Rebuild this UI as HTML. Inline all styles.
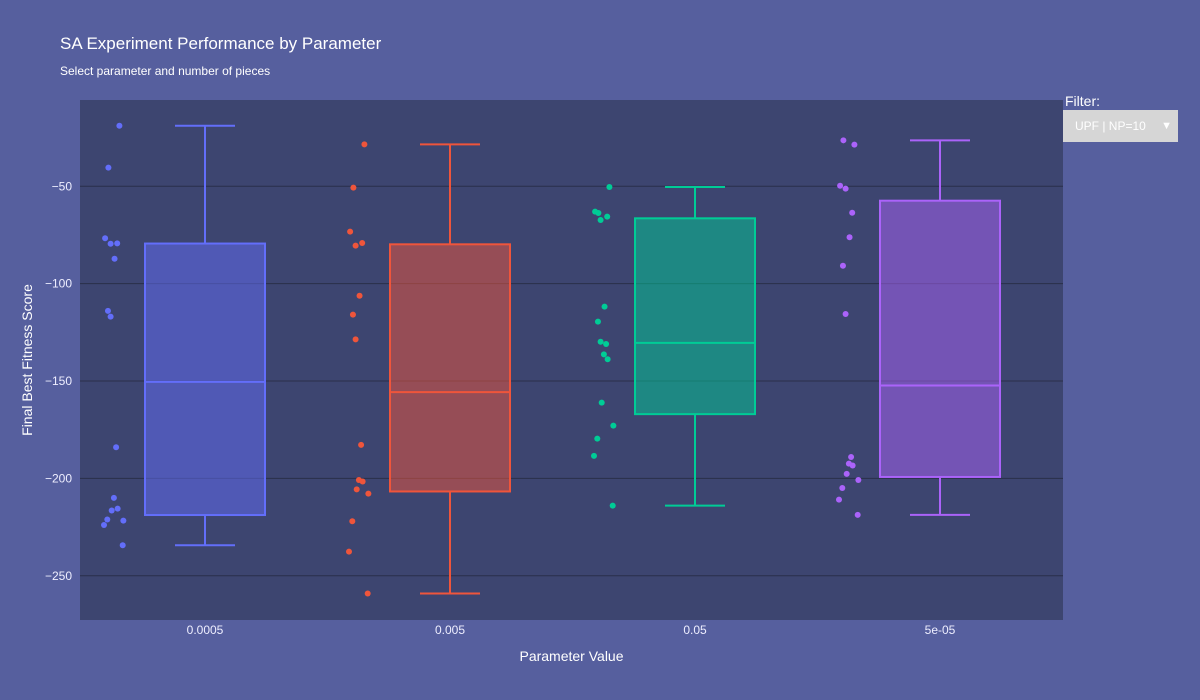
<!DOCTYPE html>
<html><head><meta charset="utf-8"><style>
body{margin:0;background:#565f9e;font-family:"Liberation Sans",sans-serif;}
#wrap{position:relative;width:1200px;height:700px;background:#565f9e;overflow:hidden}
.t{position:absolute;color:#fff;white-space:nowrap}
#dd{position:absolute;left:1063px;top:110px;width:115px;height:32px;background:#d6d6d6;color:#fff;font-size:12px;box-sizing:border-box;padding:9px 0 0 12px}
</style></head><body>
<div id="wrap">
<div class="t" style="left:60px;top:34px;font-size:17px">SA Experiment Performance by Parameter</div>
<div class="t" style="left:60px;top:64px;font-size:12px">Select parameter and number of pieces</div>
<div class="t" style="left:1065px;top:93px;font-size:14px">Filter:</div>
<div id="dd">UPF | NP=10<span style="position:absolute;right:6px;top:10px;font-size:11px">▼</span></div>
<svg id="svg" width="1200" height="700" style="position:absolute;left:0;top:0;pointer-events:none"></svg>
</div>
<script>
const categories=["0.0005","0.005","0.05","5e-05"];
const colors=["#636efa","#EF553B","#00cc96","#ab63fa"];
const series0=[-18.9,-40.4,-76.7,-79.5,-79.3,-87.2,-114.0,-116.9,-184.0,-210.0,-215.5,-216.5,-221.7,-221.1,-223.9,-234.3];
const series1=[-28.5,-50.7,-73.3,-80.5,-79.1,-106.2,-115.9,-128.6,-182.8,-200.8,-201.6,-205.6,-207.8,-222.0,-237.6,-259.1];
const series2=[-50.4,-63.7,-63.0,-67.3,-65.6,-111.8,-119.5,-129.8,-131.0,-136.3,-138.8,-161.1,-172.9,-179.6,-188.4,-214.0];
const series3=[-28.6,-26.4,-49.7,-51.2,-63.6,-76.2,-90.8,-115.6,-189.0,-192.4,-193.4,-197.7,-200.8,-204.9,-210.9,-218.7];
const jitter=[0.7,0.2,0.05,0.3,0.6,0.48,0.18,0.3,0.55,0.45,0.62,0.35,0.88,0.15,0.0,0.85];
const yTicks=[-50,-100,-150,-200,-250];
const allSeries=[series0,series1,series2,series3];
const L=80,R=1063,T=100,B=620,yMin=-272.7,yMax=-5.7;
const y=v=>T+(yMax-v)/(yMax-yMin)*(B-T);
const X0=205,STEP=245;
const xc=i=>X0+STEP*i;
const NS="http://www.w3.org/2000/svg";
const svg=document.getElementById('svg');
function mk(tag,attrs,parent){const e=document.createElementNS(NS,tag);for(const k in attrs)e.setAttribute(k,attrs[k]);(parent||svg).appendChild(e);return e;}
const bg=mk('rect',{x:L,y:T,width:R-L,height:B-T,fill:'#3d4570'});


yTicks.forEach(v=>{
 const g=mk('line',{x1:L,x2:R,y1:y(v),y2:y(v),stroke:'#2a2f4a','stroke-width':1});
 
 
 const t=mk('text',{x:72,y:y(v)+4,'text-anchor':'end','font-size':12,fill:'#eef','font-family':'Liberation Sans, sans-serif'});
 t.textContent='\u2212'+Math.abs(v);
 
 
});
function median(a){const n=a.length;return n%2?a[(n-1)/2]:(a[n/2-1]+a[n/2])/2;}
function quart(s){const a=[...s].sort((a,b)=>a-b);const n=a.length;const h=Math.floor(n/2);
 const lowH=a.slice(0,h),upH=a.slice(n-h);return [median(lowH),median(a),median(upH)];}
allSeries.forEach((s,i)=>{
 const c=colors[i],cx=xc(i),bw=120,cw=60;
 const [q1,med,q3]=quart(s),iqr=q3-q1;
 const inR=s.filter(v=>v>=q1-1.5*iqr&&v<=q3+1.5*iqr);
 const lo=Math.min(...inR),hi=Math.max(...inR);
 const g=mk('g',{});
 
 
 mk('line',{x1:cx,x2:cx,y1:y(hi),y2:y(q3),stroke:c,'stroke-width':2},g);
 mk('line',{x1:cx,x2:cx,y1:y(q1),y2:y(lo),stroke:c,'stroke-width':2},g);
 mk('line',{x1:cx-cw/2,x2:cx+cw/2,y1:y(hi),y2:y(hi),stroke:c,'stroke-width':2},g);
 mk('line',{x1:cx-cw/2,x2:cx+cw/2,y1:y(lo),y2:y(lo),stroke:c,'stroke-width':2},g);
 mk('rect',{x:cx-bw/2,y:y(q3),width:bw,height:y(q1)-y(q3),fill:c,'fill-opacity':0.5,stroke:c,'stroke-width':2},g);
 mk('line',{x1:cx-bw/2,x2:cx+bw/2,y1:y(med),y2:y(med),stroke:c,'stroke-width':2},g);
 s.forEach((v,j)=>{
  const p=mk('circle',{cx:cx-101+jitter[j]*22,cy:y(v),r:3,fill:c});
  
  
 });
 const t=mk('text',{x:cx,y:634,'text-anchor':'middle','font-size':12,fill:'#eef','font-family':'Liberation Sans, sans-serif'});
 t.textContent=categories[i];
 
 
});
const xt=mk('text',{x:(L+R)/2,y:661,'text-anchor':'middle','font-size':14,fill:'#fff','font-family':'Liberation Sans, sans-serif'});
xt.textContent='Parameter Value';


const yt=mk('text',{x:0,y:0,'text-anchor':'middle','font-size':14,fill:'#fff','font-family':'Liberation Sans, sans-serif',transform:'translate(32,360) rotate(-90)'});
yt.textContent='Final Best Fitness Score';


</script>
</body></html>
